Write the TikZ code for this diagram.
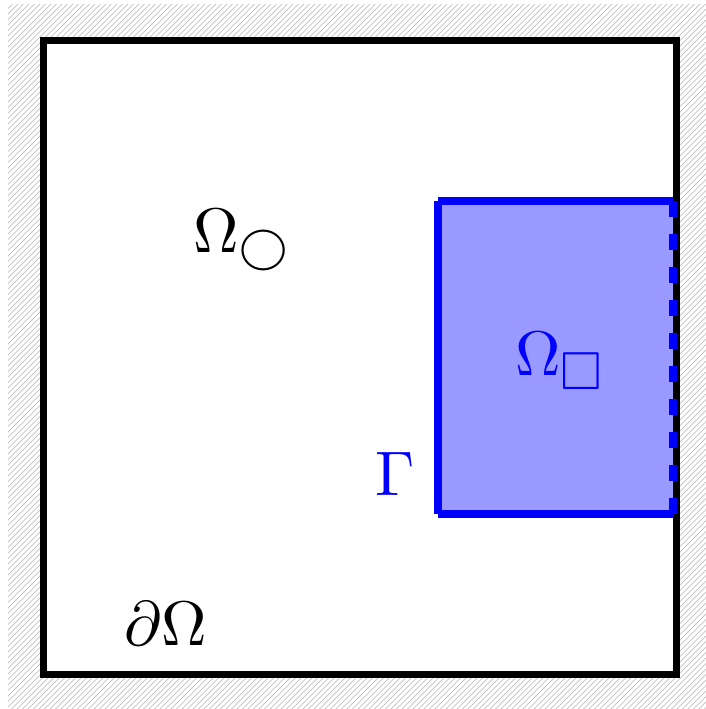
\documentclass[tikz,border=0pt]{standalone}
\usepackage{amssymb}
\begin{document}
\begin{tikzpicture}[x=1pt,y=-1pt,
  hatchline/.style={draw=gray!60,line width=0.6pt},
  outerbox/.style={draw=black,line width=7pt,fill=white},
  regionfill/.style={fill=blue!40},
  ifaceline/.style={draw=blue,line width=8pt},
  dashline/.style={draw=blue,line width=8pt,dash pattern=on 16pt off 17pt},
  lbl/.style={inner sep=0pt,anchor=base west}]
\useasboundingbox (0,0) rectangle (706,709);
\begin{scope}
  \clip (8,5) rectangle (706,709);
  \foreach \c in {0,5.5,...,1440} {
    \draw[hatchline] (\c,0) -- (\c-720,720);
  }
\end{scope}
\coordinate (A) at (43.5,41);
\coordinate (B) at (676.5,674.5);
\draw[outerbox] (A) rectangle (B);
\coordinate (TL) at (438,201);
\coordinate (TR) at (673,201);
\coordinate (BL) at (438,514);
\coordinate (BR) at (673,514);
\fill[regionfill] (TL) rectangle (BR);
\draw[ifaceline] (TL) -- (TR);
\draw[ifaceline] (TL) -- (BL);
\draw[ifaceline] (BL) -- (BR);
\draw[dashline] (TR) -- (BR);
\node[lbl] (om) at (193,252) {\scalebox{6.3}{$\Omega_\bigcirc$}};
\node[lbl,text=blue] (os) at (515,375) {\scalebox{6.3}{$\Omega_{\scalebox{0.85}{$\square$}}$}};
\node[lbl,text=blue] (g) at (375,495) {\scalebox{6.3}{$\Gamma$}};
\node[lbl] (d) at (124,645) {\scalebox{6.3}{$\partial\Omega$}};
\end{tikzpicture}
\end{document}
